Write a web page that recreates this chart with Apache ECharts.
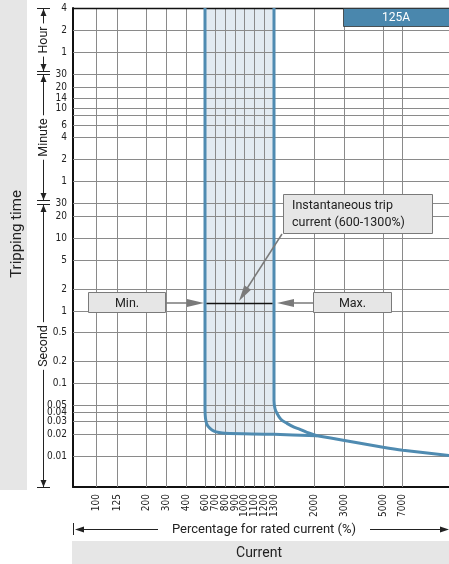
<!DOCTYPE html>
<html>
<head>
<meta charset="utf-8">
<script src="https://cdn.jsdelivr.net/npm/echarts@6/dist/echarts.min.js"></script>
<style>
  html, body { margin: 0; padding: 0; background: #fff; }
  #chart { width: 449px; height: 564px; }
</style>
</head>
<body>
<div id="chart"></div>
<script>
// x ticks: percentage of rated current
const currentTicks = [100, 125, 200, 300, 400, 600, 700, 800, 900, 1000, 1100, 1200, 1300, 2000, 3000, 5000, 7000];
// the x axis is not linear nor log: place of each tick on the axis scale
const currentScale = [23, 44, 73, 93, 113, 132, 142, 152, 162, 171, 181, 191, 201, 241, 271, 310, 329];

// y ticks: tripping time in seconds (4 h ... 0.01 s) and their printed labels
const timeTicks = [14400, 7200, 3600, 1800, 1200, 840, 600, 480, 360, 240, 120, 60,
  30, 20, 10, 5, 2, 1, 0.5, 0.2, 0.1, 0.05, 0.04, 0.03, 0.02, 0.01];
const timeLabels = ['4', '2', '1', '30', '20', '14', '10', '', '6', '4', '2', '1',
  '30', '20', '10', '5', '2', '1', '0.5', '0.2', '0.1', '0.05', '0.04', '0.03', '0.02', '0.01'];

// lower edge of the band, starting at 600 %
const minCurrent = [600, 600, 600, 605, 620, 650, 690, 740, 800, 1300, 2100];
const minTime = [14400, 0.06, 0.045, 0.033, 0.027, 0.024, 0.022, 0.021, 0.0205, 0.0199, 0.019];
// upper edge of the band, starting at 1300 %
const maxCurrent = [1300, 1300, 1317, 1352, 1420, 1527, 1650, 1755, 1877, 2100];
const maxTime = [14400, 0.058, 0.045, 0.0387, 0.032, 0.0281, 0.025, 0.0233, 0.0211, 0.019];
// common tail
const tailCurrent = [2100, 2970, 5000, 7100, 11950];
const tailTime = [0.019, 0.0165, 0.0132, 0.012, 0.0102];

// instantaneous trip marker
const tripRange = [600, 1300];
const tripTime = 1.25;

function toAxis(pct) {
  const s = currentTicks, p = currentScale;
  let i = 0;
  while (i < s.length - 2 && pct > s[i + 1]) i++;
  return p[i] + (pct - s[i]) / (s[i + 1] - s[i]) * (p[i + 1] - p[i]);
}
const pts = (cs, ts) => cs.map((c, i) => [toAxis(c), ts[i]]);

const TICK_FONT = '10px "Liberation Sans Narrow", "DejaVu Sans Condensed", Roboto, sans-serif';
const FONT = 'Roboto, "Noto Sans", sans-serif';
const BLUE = '#4f8bb1';
const GRID = '#8a8a8a';
const ARROW = '#7a7a7a';
const BOX = '#e6e6e6';
const INK = '#222';

function arrowHead(tip, from, len, half, color) {
  const dx = tip[0] - from[0], dy = tip[1] - from[1];
  const d = Math.sqrt(dx * dx + dy * dy);
  const ux = dx / d, uy = dy / d;
  const bx = tip[0] - ux * len, by = tip[1] - uy * len;
  return {
    type: 'polygon', z: 100,
    shape: { points: [tip, [bx - uy * half, by + ux * half], [bx + uy * half, by - ux * half]] },
    style: { fill: color }
  };
}
function seg(x1, y1, x2, y2, color, w) {
  return { type: 'line', z: 100, shape: { x1, y1, x2, y2 }, style: { stroke: color, lineWidth: w } };
}
function bracket(y1, y2, label) {
  const x = 43.5;
  return [
    seg(x, y1, x, y2, INK, 1),
    seg(37, y1 + 0.5, 50, y1 + 0.5, INK, 1),
    seg(37, y2 - 0.5, 50, y2 - 0.5, INK, 1),
    arrowHead([x, y1 + 1], [x, y1 + 10], 7, 3, INK),
    arrowHead([x, y2 - 1], [x, y2 - 10], 7, 3, INK),
    {
      type: 'text', z: 100, x: x, y: (y1 + y2) / 2, rotation: Math.PI / 2,
      style: { text: label, font: '12.5px ' + FONT, fill: INK, align: 'center', verticalAlign: 'middle',
        backgroundColor: '#fff', padding: [0, 3] }
    }
  ];
}
function box(x, y, w, h, label) {
  return [
    { type: 'rect', z: 100, shape: { x, y, width: w, height: h }, style: { fill: BOX, stroke: ARROW, lineWidth: 1 } },
    { type: 'text', z: 101, x: x + w / 2, y: y + h / 2 + 1,
      style: { text: label, font: '12.5px ' + FONT, fill: INK, align: 'center', verticalAlign: 'middle' } }
  ];
}

const graphics = [
  // left band
  { type: 'rect', z: 100, shape: { x: 0, y: 0, width: 27, height: 490 }, style: { fill: BOX } },
  { type: 'text', z: 101, x: 17, y: 234, rotation: Math.PI / 2,
    style: { text: 'Tripping time', font: '15px ' + FONT, fill: INK, align: 'center', verticalAlign: 'middle' } },
  ...bracket(8, 72, 'Hour'),
  ...bracket(74, 201, 'Minute'),
  ...bracket(204, 488, 'Second'),
  // header
  { type: 'rect', z: 100, shape: { x: 343.5, y: 8.5, width: 106, height: 18 }, style: { fill: '#4a87ad', stroke: '#333', lineWidth: 0.8 } },
  { type: 'text', z: 101, x: 396, y: 18, style: { text: '125A', font: '12px ' + FONT, fill: '#fff', align: 'center', verticalAlign: 'middle' } },
  // min / max boxes with arrows
  ...box(88.5, 292.5, 77, 20, 'Min.'),
  seg(166, 303, 192, 303, ARROW, 1.5),
  arrowHead([204, 303], [186, 303], 17, 4, ARROW),
  ...box(313.5, 292.5, 78, 20, 'Max.'),
  seg(290, 303, 313, 303, ARROW, 1.5),
  arrowHead([277, 303], [295, 303], 17, 4, ARROW),
  // instantaneous trip note
  { type: 'rect', z: 100, shape: { x: 283.5, y: 194.5, width: 149, height: 39 }, style: { fill: BOX, stroke: ARROW, lineWidth: 1 } },
  { type: 'text', z: 101, x: 292, y: 214,
    style: { text: 'Instantaneous trip\ncurrent (600-1300%)', font: '12.5px ' + FONT, fill: INK, align: 'left',
      verticalAlign: 'middle', lineHeight: 17 } },
  seg(282, 234, 246, 290, ARROW, 1.5),
  arrowHead([239, 301], [282, 234], 16, 4, ARROW),
  // bottom axis title
  seg(73.5, 523, 73.5, 535, INK, 1),
  seg(80, 529.5, 158, 529.5, INK, 1),
  arrowHead([75, 529.5], [90, 529.5], 9, 3, INK),
  seg(370, 529.5, 442, 529.5, INK, 1),
  arrowHead([449, 529.5], [430, 529.5], 9, 3, INK),
  { type: 'text', z: 101, x: 264, y: 530,
    style: { text: 'Percentage for rated current (%)', font: '13px ' + FONT, fill: INK, align: 'center', verticalAlign: 'middle' } },
  { type: 'rect', z: 100, shape: { x: 72, y: 541, width: 377, height: 23 }, style: { fill: BOX } },
  { type: 'text', z: 101, x: 259, y: 553,
    style: { text: 'Current', font: '14px ' + FONT, fill: INK, align: 'center', verticalAlign: 'middle' } }
];

const chart = echarts.init(document.getElementById('chart'), null, { renderer: 'canvas' });
chart.setOption({
  animation: false,
  grid: { left: 73, top: 8, right: 0, bottom: 77 },
  xAxis: {
    type: 'value', min: 0, max: 376,
    axisLine: { show: true, onZero: false, lineStyle: { color: '#111', width: 2 } },
    axisTick: { show: false }, axisLabel: { show: false }, splitLine: { show: false }
  },
  yAxis: {
    type: 'log', logBase: 10, min: 0.003753, max: 14400,
    axisLine: { show: true, onZero: false, lineStyle: { color: '#111', width: 2 } },
    axisTick: { show: false }, axisLabel: { show: false }, splitLine: { show: false }
  },
  graphic: graphics,
  series: [
    {
      // shaded band between 600 % and 1300 %
      type: 'custom', z: 1, silent: true,
      data: [[0, 1]],
      renderItem: function (params, api) {
        const n = minCurrent.indexOf(1300);
        const poly = [];
        for (let i = 0; i <= n; i++) poly.push(api.coord([toAxis(minCurrent[i]), minTime[i]]));
        poly.push(api.coord([toAxis(1300), 14400]));
        return { type: 'polygon', shape: { points: poly }, style: { fill: '#e2eaf1' } };
      }
    },
    {
      // vertical grid + x labels
      type: 'custom', z: 2, silent: true,
      data: currentTicks.map(v => [toAxis(v), 1]),
      renderItem: function (params, api) {
        const cs = params.coordSys;
        const x = Math.round(api.coord([api.value(0), 1])[0]) + 0.5;
        return {
          type: 'group', children: [
            { type: 'line', shape: { x1: x, y1: cs.y, x2: x, y2: cs.y + cs.height }, style: { stroke: GRID, lineWidth: 1 } },
            { type: 'text', x: x, y: cs.y + cs.height + 7, rotation: Math.PI / 2,
              style: { text: String(currentTicks[params.dataIndex]), font: TICK_FONT, fill: INK, align: 'right', verticalAlign: 'middle' } }
          ]
        };
      }
    },
    {
      // horizontal grid + y labels
      type: 'custom', z: 2, silent: true,
      data: timeTicks.map(v => [0, v]),
      renderItem: function (params, api) {
        const cs = params.coordSys;
        const i = params.dataIndex;
        const y = Math.round(api.coord([0, api.value(1)])[1]) + 0.5;
        const top = i === 0;
        return {
          type: 'group', children: [
            { type: 'line', shape: { x1: cs.x, y1: y, x2: cs.x + cs.width, y2: y },
              style: { stroke: top ? '#111' : GRID, lineWidth: top ? 1.5 : 1 } },
            { type: 'text', x: 67, y: y, style: { text: timeLabels[i], font: TICK_FONT, fill: INK, align: 'right', verticalAlign: 'middle' } }
          ]
        };
      }
    },
    {
      type: 'line', z: 3, showSymbol: false, smooth: 0.3, silent: true,
      data: pts(minCurrent, minTime),
      lineStyle: { color: BLUE, width: 3 }
    },
    {
      type: 'line', z: 3, showSymbol: false, smooth: 0.3, silent: true,
      data: pts(maxCurrent, maxTime),
      lineStyle: { color: BLUE, width: 3 }
    },
    {
      type: 'line', z: 3, showSymbol: false, smooth: 0.2, silent: true,
      data: pts(tailCurrent, tailTime),
      lineStyle: { color: BLUE, width: 3 }
    },
    {
      type: 'line', z: 4, showSymbol: false, silent: true,
      data: [[toAxis(tripRange[0]) + 1.5, tripTime], [toAxis(tripRange[1]) - 1.5, tripTime]],
      lineStyle: { color: '#111', width: 1.5 }
    }
  ]
});
</script>
</body>
</html>
